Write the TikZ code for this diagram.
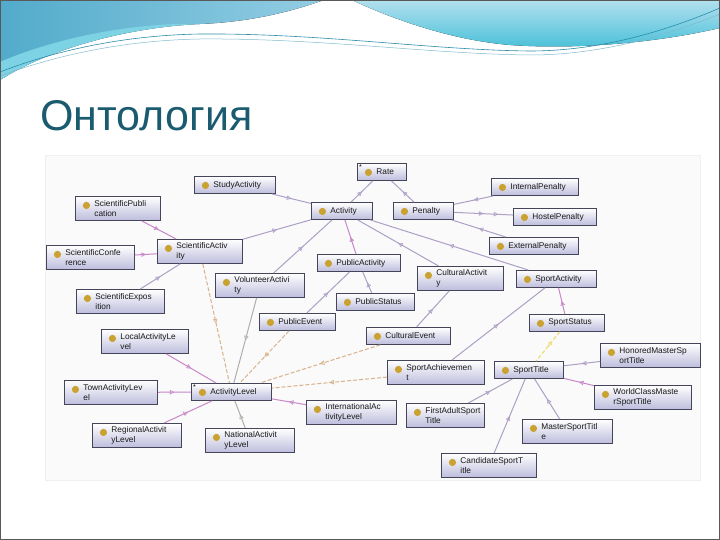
\documentclass[tikz,border=0pt]{standalone}
\usepackage{fontspec}
\setmainfont{Liberation Sans}
\usetikzlibrary{arrows.meta,decorations.markings,shadows}
\definecolor{titleblue}{HTML}{1B5B6F}
\definecolor{boxedge}{HTML}{45455A}
\definecolor{boxfill}{HTML}{BDBDDD}
\definecolor{classdot}{HTML}{C9A231}
\definecolor{isaline}{HTML}{AE9FC6}
\definecolor{isapink}{HTML}{C887C8}
\definecolor{relline}{HTML}{D7B189}
\definecolor{relgrey}{HTML}{B2ADA8}
\definecolor{relyellow}{HTML}{ECDD6E}
\definecolor{waveA}{HTML}{52ABCB}
\definecolor{waveB}{HTML}{93CDE3}
\definecolor{waveC}{HTML}{B2E0EE}
\definecolor{waveD}{HTML}{45BFD8}
\definecolor{waveline}{HTML}{2C8CAA}

\begin{document}
\begin{tikzpicture}[x=1pt, y=-1pt, font=\fontsize{8.3}{9.6}\selectfont,
    cls/.style={draw=boxedge, line width=0.9pt, top color=white, bottom color=boxfill,
      anchor=north west, align=left, inner xsep=3pt, inner ysep=2pt, text=black!90,
      execute at begin node={\leftskip=16pt\relax},
      drop shadow={shadow xshift=1pt, shadow yshift=-1pt, fill=black!45, opacity=0.6},
      path picture={\fill[classdot] ([xshift=11pt, yshift=-9pt]path picture bounding box.north west) circle (3.6pt);}},
    bw/.style={text width=#1pt-6pt},
    one/.style={minimum height=17pt},
    two/.style={minimum height=24pt},
    star/.style={label={[name=#1, anchor=north west, inner sep=0pt, xshift=2pt, yshift=-1pt, font=\fontsize{7}{7}\selectfont]north west:*}},
    mid/.style={postaction={decorate, decoration={markings,
      mark=at position #1 with {\arrow[line width=0.6pt]{Triangle[open, length=4.5pt, width=4.5pt]}}}}},
    isa/.style={draw=isaline, line width=1pt, mid=0.5},
    isb/.style={draw=isapink, line width=1pt, mid=0.5},
    rel/.style={draw=relline, line width=1pt, dash pattern=on 4pt off 2pt, mid=0.5},
    relg/.style={draw=relgrey, line width=1pt, mid=0.5},
    rely/.style={draw=relyellow, line width=1.1pt, dash pattern=on 4pt off 2pt, mid=0.5}]
  \useasboundingbox (0,0) rectangle (720,540);
  \fill[white] (0,0) rectangle (720,540);
  % header wave
  \fill[left color=waveA, right color=waveB] (0,0) -- (324,0) .. controls (290,12) and (250,22) .. (200,24) .. controls (130,27) and (50,48) .. (0,80) -- cycle;
  \fill[waveD!70] (0,80) .. controls (50,48) and (130,27) .. (200,24) .. controls (130,22) and (50,40) .. (0,62) -- cycle;
  \fill[top color=waveC, bottom color=waveD] (352,0) -- (720,0) -- (720,28) .. controls (660,42) and (580,50) .. (510,45) .. controls (450,40) and (390,18) .. (352,0) -- cycle;
  \draw[waveline, line width=0.6pt] (0,72) .. controls (70,45) and (140,35) .. (200,34) .. controls (320,33) and (430,50) .. (530,51) .. controls (610,51) and (680,25) .. (720,8);
  \draw[waveline!60, line width=0.5pt] (0,76) .. controls (70,50) and (140,40) .. (200,39) .. controls (320,38) and (430,54) .. (530,55) .. controls (610,55) and (680,30) .. (720,14);
  \node[anchor=base west, text=titleblue, font=\fontsize{43}{48}\selectfont] (title) at (37,131) {Онтология};
  % diagram panel
  \filldraw[fill=black!2, draw=black!6] (45,155) rectangle (700,480);

  \node[cls, one, bw=49, star=ratestar] (rate) at (357,163) {Rate};
  \node[cls, one, bw=81] (studyact) at (194,176) {StudyActivity};
  \node[cls, two, bw=85] (scipub) at (75,196) {ScientificPubli\\cation};
  \node[cls, one, bw=61] (activity) at (311,202) {Activity};
  \node[cls, one, bw=60] (penalty) at (393,202) {Penalty};
  \node[cls, one, bw=87] (intpen) at (491,178) {InternalPenalty};
  \node[cls, one, bw=83] (hostpen) at (513,208) {HostelPenalty};
  \node[cls, one, bw=89] (extpen) at (489,237) {ExternalPenalty};
  \node[cls, two, bw=88] (scicon) at (46,245) {ScientificConfe\\rence};
  \node[cls, two, bw=85] (sciact) at (157,239) {ScientificActiv\\ity};
  \node[cls, one, bw=83] (pubact) at (317,254) {PublicActivity};
  \node[cls, two, bw=86] (cultact) at (417,266) {CulturalActivit\\y};
  \node[cls, one, bw=80] (sportact) at (516,270) {SportActivity};
  \node[cls, two, bw=89] (volact) at (215,273) {VolunteerActivi\\ty};
  \node[cls, two, bw=88] (sciexp) at (76,289) {ScientificExpos\\ition};
  \node[cls, one, bw=78] (pubstat) at (336,293) {PublicStatus};
  \node[cls, one, bw=76] (pubevent) at (259,313) {PublicEvent};
  \node[cls, one, bw=75] (sportstat) at (529,314) {SportStatus};
  \node[cls, one, bw=84] (cultevent) at (366,327) {CulturalEvent};
  \node[cls, two, bw=87] (locallvl) at (101,329) {LocalActivityLe\\vel};
  \node[cls, two, bw=97] (sportach) at (387,360) {SportAchievemen\\t};
  \node[cls, one, bw=69] (sporttitle) at (494,361) {SportTitle};
  \node[cls, two, bw=100] (honored) at (600,343) {HonoredMasterSp\\ortTitle};
  \node[cls, two, bw=93] (townlvl) at (64,380) {TownActivityLev\\el};
  \node[cls, one, bw=80, star=actlvlstar] (actlvl) at (191,383) {ActivityLevel};
  \node[cls, two, bw=90] (intlvl) at (306,400) {InternationalAc\\tivityLevel};
  \node[cls, two, bw=97] (worldcl) at (594,385) {WorldClassMaste\\rSportTitle};
  \node[cls, two, bw=78] (firstadult) at (406,403) {FirstAdultSport\\Title};
  \node[cls, two, bw=89] (reglvl) at (92,423) {RegionalActivit\\yLevel};
  \node[cls, two, bw=89] (natlvl) at (205,428) {NationalActivit\\yLevel};
  \node[cls, two, bw=90] (master) at (522,419) {MasterSportTitl\\e};
  \node[cls, two, bw=95] (candidate) at (441,453) {CandidateSportT\\itle};

  \draw[isa] (activity) -- (rate);
  \draw[isa] (penalty) -- (rate);
  \draw[isa] (studyact) -- (activity);
  \draw[isa] (sciact) -- (activity);
  \draw[isa] (volact) -- (activity);
  \draw[isb] (pubact) -- (activity);
  \draw[isa] (cultact) -- (activity);
  \draw[isa] (sportact) -- (activity);
  \draw[isa] (intpen) -- (penalty);
  \draw[isa, mid=0.75] (penalty) -- (hostpen);
  \draw[isa] (extpen) -- (penalty);
  \draw[isb] (scipub) -- (sciact);
  \draw[isb] (scicon) -- (sciact);
  \draw[isa] (sciexp) -- (sciact);
  \draw[isa] (pubstat) -- (pubact);
  \draw[isa] (pubevent) -- (pubact);
  \draw[isa] (cultevent) -- (cultact);
  \draw[isa] (sportach) -- (sportact);
  \draw[isb] (sportstat) -- (sportact);
  \draw[rel] (sciact) -- (actlvl);
  \draw[relg] (volact) -- (actlvl);
  \draw[rel] (pubevent) -- (actlvl);
  \draw[rel] (cultevent) -- (actlvl);
  \draw[rel] (sportach) -- (actlvl);
  \draw[rely] (sportstat) -- (sporttitle);
  \draw[isb] (locallvl) -- (actlvl);
  \draw[isb] (townlvl) -- (actlvl);
  \draw[isb] (reglvl) -- (actlvl);
  \draw[relg] (natlvl) -- (actlvl);
  \draw[isb] (intlvl) -- (actlvl);
  \draw[isa] (honored) -- (sporttitle);
  \draw[isb] (worldcl) -- (sporttitle);
  \draw[isa] (master) -- (sporttitle);
  \draw[isa] (candidate) -- (sporttitle);
  \draw[isa] (firstadult) -- (sporttitle);
  \draw[black!65, line width=1pt] (0.5,0.5) rectangle (719.5,539.5);
\end{tikzpicture}
\end{document}
